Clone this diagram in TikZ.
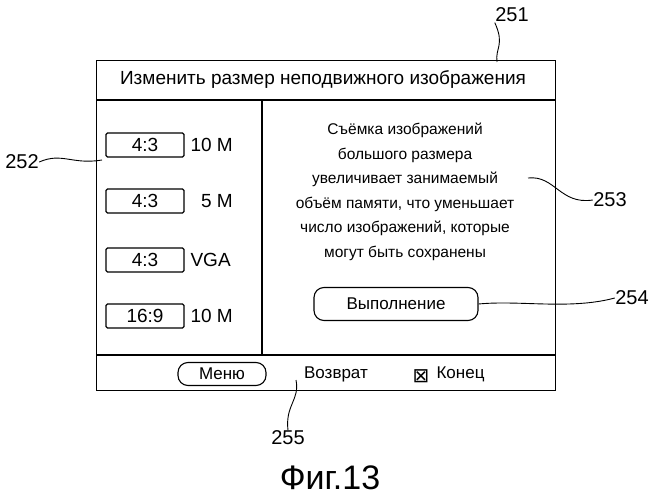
\documentclass[tikz,border=0pt]{standalone}
\usepackage{fontspec}
\setmainfont{Liberation Sans}
\newfontfamily\symf{DejaVu Sans}
\begin{document}
\begin{tikzpicture}[x=1pt,y=-1pt,line width=1.1pt,
  ratio/.style={draw,rounded corners=1.5pt,minimum width=78pt,minimum height=24pt,font=\fontsize{19}{19}\selectfont,inner sep=0pt},
  txt/.style={font=\fontsize{19}{19}\selectfont,inner sep=0pt},
  btn/.style={draw,rounded corners=10pt,font=\fontsize{17}{17}\selectfont},
  lead/.style={line width=0.9pt}]
\useasboundingbox (0,0) rectangle (663,500);
\node[draw,minimum width=459pt,minimum height=330pt,anchor=north west,inner sep=0pt] (frame) at (96,60) {};
\draw (96,100) -- (555,100);
\draw (96,355) -- (555,355);
\draw (262,100) -- (262,355);
\node[txt] (title) at (323,80) {Изменить размер неподвижного изображения};
\foreach \y/\r/\s/\n in {145/4:3/10 M/a,201/4:3/\ \ 5 M/b,260/4:3/VGA/c,316/16:9/10 M/d}{
  \node[ratio] (r\n) at (145,\y) {\r};
  \node[txt,anchor=west] (s\n) at (190,\y) {\s};
}
\node[txt,align=center,font=\fontsize{15.5}{24.5}\selectfont] (msg) at (405,192) {Съёмка изображений\\большого размера\\увеличивает занимаемый\\объём памяти, что уменьшает\\число изображений, которые\\могут быть сохранены};
\node[btn,minimum width=164pt,minimum height=33pt] (exec) at (396,304) {Выполнение};
\node[btn,minimum width=88pt,minimum height=23pt,inner sep=0pt] (menu) at (222,374) {Меню};
\node[txt,font=\fontsize{17}{17}\selectfont] (ret) at (336,374) {Возврат};
\node[txt,font=\symf\fontsize{20}{20}\selectfont] (chk) at (421,376) {⊠};
\node[txt,font=\fontsize{17}{17}\selectfont,anchor=west] (end) at (436,374) {Конец};
\node[txt,font=\fontsize{20}{20}\selectfont] (l251) at (512,15) {251};
\node[txt,font=\fontsize{20}{20}\selectfont] (l252) at (22,162) {252};
\node[txt,font=\fontsize{20}{20}\selectfont] (l253) at (610,200) {253};
\node[txt,font=\fontsize{20}{20}\selectfont] (l254) at (632,298) {254};
\node[txt,font=\fontsize{20}{20}\selectfont] (l255) at (288,438) {255};
\node[txt,font=\fontsize{34}{34}\selectfont] (fig) at (330,478) {Фиг.13};
\coordinate (e251) at (497,62);
\coordinate (e252) at (102,160);
\coordinate (e253) at (528,178);
\coordinate (e255) at (296,380);
\draw[lead] (l251.south west) .. controls (505,45) and (495,48) .. (e251);
\draw[lead] (l252.east) .. controls (62,152) and (72,165) .. (e252);
\draw[lead] (e253) .. controls (555,175) and (560,205) .. (l253.west);
\draw[lead] (exec.east) .. controls (520,300) and (570,310) .. (l254.west);
\draw[lead] (l255.north) .. controls (285,405) and (300,400) .. (e255);
\end{tikzpicture}
\end{document}
